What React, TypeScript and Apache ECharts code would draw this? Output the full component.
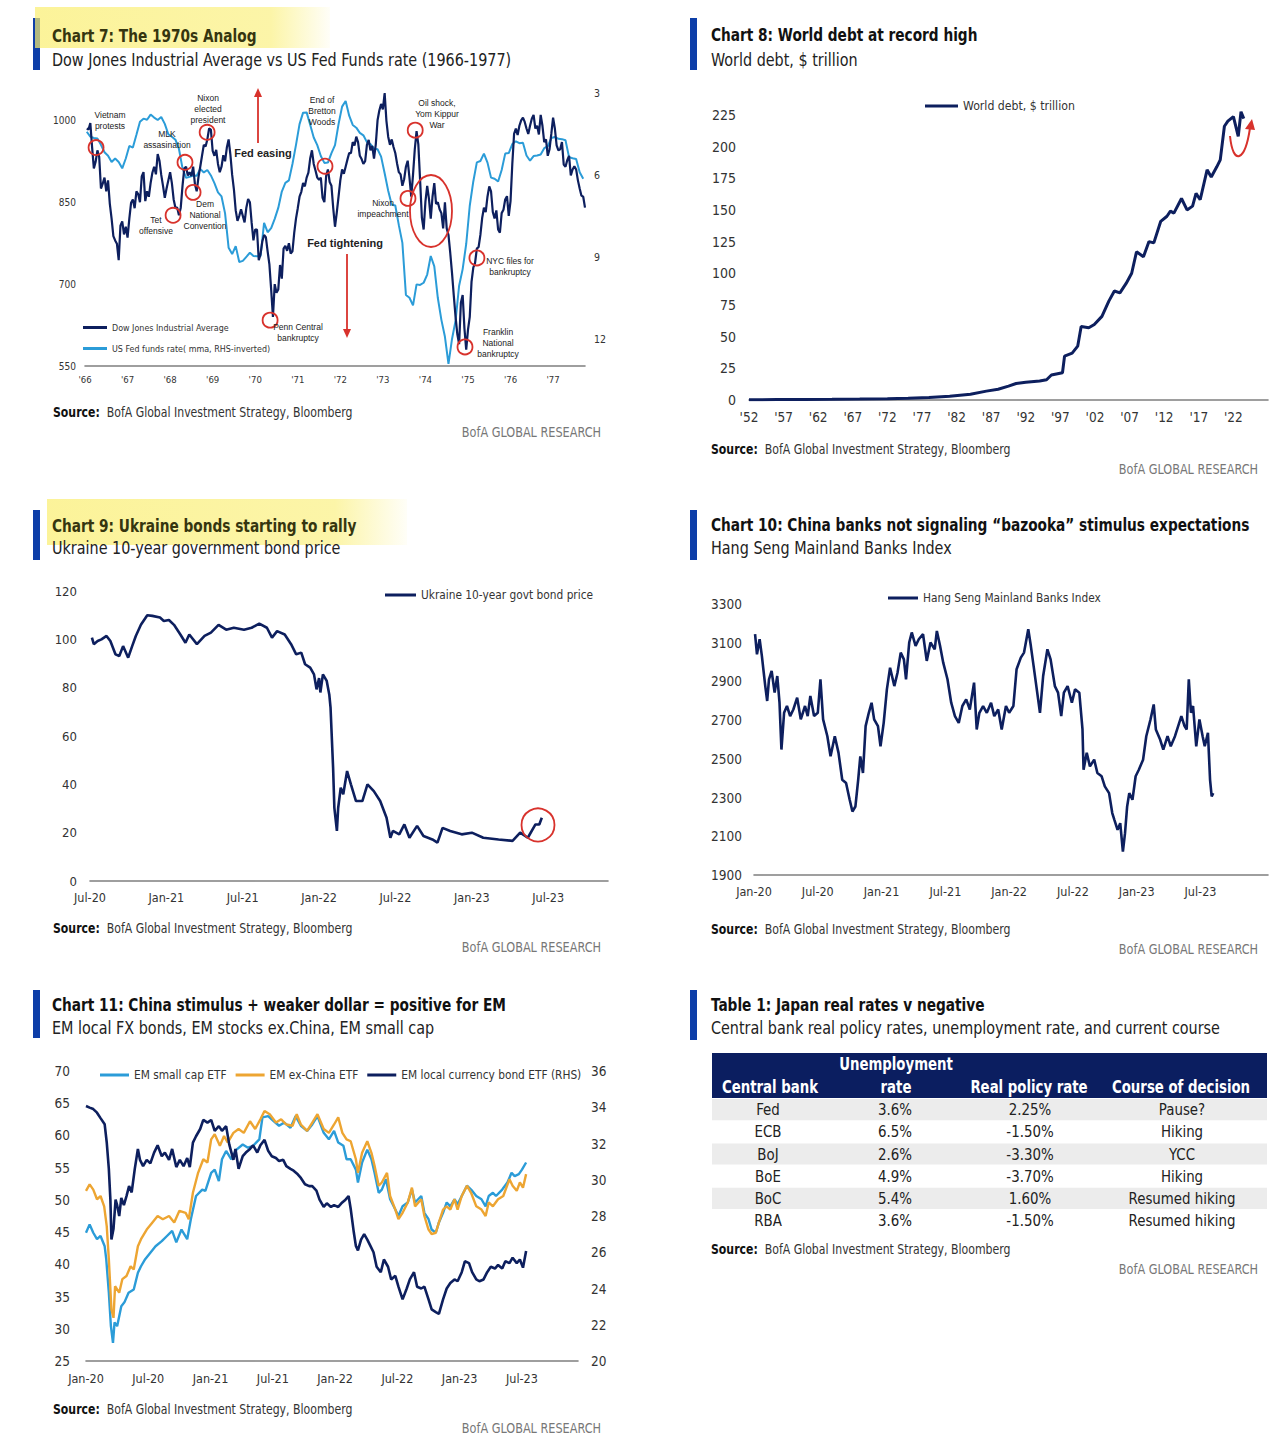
import React, { useEffect, useRef } from "react";
import * as echarts from "echarts";

const NARROW = "'Liberation Sans Narrow', 'DejaVu Sans Condensed', 'Roboto Condensed', Roboto, sans-serif";
const ARIAL = "'Liberation Sans', Arial, sans-serif";
const NAVY = "#0d1f5e";
const LIGHT = "#2b9cd8";
const ORANGE = "#eda532";
const RED = "#d8322c";
const AXIS = "#7f7f7f";
const LABEL = "#333333";
const BAR = "#0d3ea8";

// ---------------- Chart 7 data ----------------
// Dow Jones Industrial Average, two readings per month from Jan 1966
const djStartYear = 1966;
const djPerYear = 24;
const djValues = [
  985, 983, 995, 951, 912, 924, 945, 933, 875, 884, 895, 870, 890, 847, 820, 788, 780, 774, 744, 807, 815, 791, 805, 785,
  820, 849, 855, 839, 870, 865, 850, 897, 905, 852, 870, 860, 885, 904, 915, 901, 938, 926, 900, 880, 858, 875, 890, 905,
  885, 855, 840, 840, 826, 840, 880, 912, 915, 899, 905, 898, 915, 883, 870, 896, 915, 935, 955, 952, 965, 985, 983, 944,
  935, 946, 920, 905, 915, 936, 925, 950, 965, 937, 900, 873, 835, 816, 825, 837, 825, 813, 840, 856, 850, 812, 780, 800,
  800, 744, 755, 778, 790, 786, 760, 736, 690, 640, 700, 684, 690, 735, 710, 765, 770, 761, 775, 756, 760, 794, 820, 839,
  860, 869, 885, 879, 895, 904, 930, 945, 920, 908, 895, 891, 895, 858, 850, 898, 910, 887, 880, 839, 805, 831, 860, 890,
  910, 902, 915, 928, 940, 940, 960, 954, 970, 960, 935, 929, 920, 925, 955, 964, 945, 953, 930, 956, 1000, 1018, 1030, 1020,
  1050, 999, 970, 955, 965, 951, 940, 921, 905, 901, 880, 892, 915, 926, 895, 860, 900, 947, 980, 956, 890, 822, 800, 851,
  880, 856, 820, 860, 885, 847, 850, 837, 830, 802, 850, 802, 790, 757, 720, 679, 640, 608, 590, 666, 680, 619, 580, 616,
  640, 704, 730, 739, 765, 768, 790, 821, 840, 832, 860, 879, 870, 832, 820, 835, 800, 794, 830, 836, 855, 861, 825, 852,
  920, 975, 985, 973, 990, 1000, 1005, 997, 985, 975, 990, 1003, 1010, 985, 990, 974, 1010, 990, 960, 965, 935, 947, 975, 1005,
  985, 954, 945, 947, 960, 919, 915, 927, 935, 899, 910, 916, 910, 890, 875, 862, 860, 840,
];
// US Fed funds rate, monthly from Jan 1966
const fedValues = [
  4.42, 4.6, 4.65, 4.67, 4.9, 5.17, 5.3, 5.53, 5.4, 5.53, 5.76, 5.4,
  4.94, 5.0, 4.53, 4.05, 3.94, 3.98, 3.79, 3.9, 3.99, 3.88, 4.13, 4.51,
  4.6, 4.71, 5.05, 5.76, 6.11, 6.07, 6.02, 6.03, 5.78, 5.91, 5.82, 6.02,
  6.3, 6.64, 6.79, 7.41, 8.67, 8.9, 8.61, 9.19, 9.15, 9.0, 8.85, 8.97,
  8.98, 8.98, 7.76, 8.1, 7.95, 7.61, 7.21, 6.61, 6.29, 6.2, 5.6, 4.9,
  4.14, 3.72, 3.71, 4.16, 4.63, 4.91, 5.31, 5.56, 5.55, 5.2, 4.91, 4.14,
  3.5, 3.29, 3.83, 4.17, 4.27, 4.46, 4.55, 4.8, 4.87, 5.04, 5.06, 5.33,
  5.94, 6.58, 7.09, 7.12, 7.84, 8.49, 10.4, 10.5, 10.78, 10.01, 10.03, 9.95,
  9.65, 8.97, 9.35, 10.51, 11.31, 11.93, 12.92, 12.01, 11.34, 10.06, 9.45, 8.53,
  7.13, 6.24, 5.54, 5.49, 5.22, 5.55, 6.1, 6.14, 6.24, 5.82, 5.22, 5.2,
  4.87, 4.77, 4.84, 4.82, 5.29, 5.48, 5.31, 5.29, 5.25, 5.02, 4.95, 4.65,
  4.61, 4.68, 4.69, 4.73, 5.35, 5.39, 5.42, 5.9, 6.14,
];
const c7YearTicks = [1966, 1967, 1968, 1969, 1970, 1971, 1972, 1973, 1974, 1975, 1976, 1977];
const c7LeftTicks = [550, 700, 850, 1000];
const c7RightTicks = [3, 6, 9, 12];
// circled events [year, DJIA level]
const c7Events = [
  [1966.26, 950], [1968.07, 826], [1968.35, 923], [1968.54, 868], [1968.87, 978], [1970.35, 634],
  [1971.64, 916], [1973.59, 857], [1973.76, 982], [1974.93, 585], [1975.21, 748],
];

// ---------------- Chart 8 data ----------------
const debtSeries = [
  [1952, 0.2], [1956, 0.3], [1960, 0.4], [1964, 0.5], [1968, 0.7], [1972, 1.0], [1975, 1.4], [1978, 2.0],
  [1981, 3], [1984, 4.5], [1986.3, 7], [1988, 8.5], [1989.5, 11], [1990.6, 13], [1992, 14], [1994, 15],
  [1995, 16], [1995.7, 19.7], [1997.3, 21.5], [1997.6, 34.6], [1998.7, 37], [1999.5, 42.5], [2000, 58],
  [2001.1, 57], [2001.9, 59.6], [2003, 66], [2004, 78], [2004.8, 86], [2005.6, 84.5], [2006.5, 92],
  [2007.3, 100], [2008, 117], [2009, 113], [2009.8, 125], [2010.5, 124], [2011.5, 141], [2012.4, 145],
  [2012.9, 149], [2013.4, 147.5], [2014.5, 159], [2015.3, 150], [2016.1, 153], [2016.6, 163], [2017.2, 158],
  [2018.2, 181.6], [2018.8, 176], [2019.6, 184], [2020.1, 189.5], [2020.7, 216], [2021.2, 220], [2022, 223.6],
  [2022.7, 208], [2023.1, 227.5], [2023.5, 222],
];
const debtYearTicks = [1952, 1957, 1962, 1967, 1972, 1977, 1982, 1987, 1992, 1997, 2002, 2007, 2012, 2017, 2022];
const debtValueTicks = [0, 25, 50, 75, 100, 125, 150, 175, 200, 225];

// ---------------- Chart 9 data (x = months since Jan-2020) ----------------
const ukrSeries = [
  [6.15, 100.7], [6.3, 98], [6.6, 99.3], [6.9, 100], [7.3, 101.4], [7.6, 99.3], [8.0, 93.8], [8.3, 93.1],
  [8.6, 97.2], [9.0, 92.4], [9.3, 97], [9.6, 101.4], [10, 106], [10.5, 110], [10.9, 109.7], [11.5, 109],
  [11.8, 107.6], [12.2, 108], [12.6, 106], [13.1, 102], [13.5, 98.6], [13.8, 102], [14.4, 98], [15, 101.4],
  [15.5, 102.8], [16.1, 106], [16.7, 104], [17.3, 104.8], [18.1, 104], [18.7, 104.8], [19.3, 106.5],
  [19.9, 104.8], [20.3, 100.7], [20.7, 103.4], [21.3, 102], [21.8, 98], [22.2, 93.8], [22.6, 94.5],
  [22.9, 89.7], [23.3, 88.3], [23.6, 85.5], [23.8, 79.3], [24.0, 84], [24.1, 78], [24.3, 85.5], [24.6, 82.8],
  [24.8, 77.2], [24.9, 71.7], [25.1, 46.9], [25.2, 30.3], [25.4, 20.7], [25.5, 30.3], [25.7, 38.6],
  [25.9, 35.9], [26.2, 45.5], [26.5, 40], [26.9, 33.1], [27.4, 33.1], [27.8, 40], [28.3, 37.2], [28.8, 33.1],
  [29.3, 26.2], [29.6, 17.9], [29.8, 20.7], [30.3, 19.3], [30.7, 23.4], [31.1, 17.9], [31.7, 22.8],
  [32.2, 18.6], [32.9, 17.2], [33.3, 15.9], [33.7, 22], [34.3, 20.7], [35.2, 19.3], [36, 20], [36.9, 17.9],
  [38.1, 17.2], [39.2, 16.6], [39.8, 20], [40.4, 17.9], [41, 23.4], [41.3, 23.4], [41.5, 26.2],
];
const ukrRally = [41.2, 23.2];
const ukrMonthTicks = [6, 12, 18, 24, 30, 36, 42];
const ukrValueTicks = [0, 20, 40, 60, 80, 100, 120];

// ---------------- Chart 10 data ----------------
const hsSeries = [
  [0.1, 3144], [0.28, 3040], [0.53, 3118], [0.74, 3032], [0.88, 2963], [1.06, 2876], [1.24, 2799], [1.41, 2911],
  [1.66, 2954], [1.94, 2842], [2.19, 2928], [2.4, 2790], [2.58, 2548], [2.83, 2738], [3.1, 2773], [3.4, 2721],
  [3.7, 2755], [4.06, 2816], [4.4, 2704], [4.8, 2773], [5.05, 2721], [5.3, 2825], [5.65, 2721], [6.0, 2738],
  [6.25, 2911], [6.5, 2704], [6.9, 2617], [7.2, 2513], [7.6, 2617], [7.95, 2531], [8.3, 2392], [8.66, 2375],
  [9.0, 2289], [9.26, 2228], [9.54, 2254], [9.8, 2392], [10.0, 2513], [10.25, 2427], [10.5, 2669], [10.8, 2738],
  [11.06, 2790], [11.3, 2704], [11.66, 2669], [11.9, 2565], [12.2, 2686], [12.5, 2859], [12.8, 2971], [13.2, 2876],
  [13.5, 2945], [13.8, 3049], [14.1, 3014], [14.3, 2911], [14.6, 3101], [14.84, 3153], [15.2, 3084], [15.5, 3118],
  [15.9, 3144], [16.25, 3006], [16.6, 3101], [17.0, 3066], [17.2, 3161], [17.5, 3084], [17.8, 2997], [18.2, 2911],
  [18.55, 2790], [18.9, 2721], [19.26, 2686], [19.6, 2773], [19.96, 2807], [20.3, 2755], [20.7, 2894], [20.95, 2652],
  [21.2, 2738], [21.55, 2773], [21.9, 2738], [22.3, 2790], [22.6, 2721], [22.97, 2755], [23.3, 2652], [23.7, 2773],
  [24.0, 2738], [24.4, 2773], [24.7, 2963], [25.1, 3023], [25.4, 3049], [25.8, 3170], [26.04, 3084], [26.3, 2980],
  [26.6, 2859], [26.9, 2738], [27.2, 2928], [27.6, 3066], [27.9, 3014], [28.3, 2876], [28.6, 2842], [28.9, 2721],
  [29.15, 2842], [29.5, 2876], [29.9, 2790], [30.2, 2859], [30.6, 2842], [30.9, 2652], [31.0, 2444], [31.3, 2531],
  [31.6, 2461], [32.0, 2496], [32.3, 2427], [32.7, 2410], [33.0, 2358], [33.4, 2323], [33.7, 2220], [33.9, 2185],
  [34.2, 2133], [34.45, 2168], [34.7, 2021], [34.9, 2116], [35.1, 2254], [35.3, 2323], [35.6, 2289], [35.9, 2410],
  [36.2, 2444], [36.6, 2496], [36.9, 2617], [37.3, 2704], [37.6, 2781], [37.8, 2652], [38.2, 2600], [38.5, 2548],
  [38.9, 2617], [39.2, 2565], [39.6, 2617], [39.9, 2669], [40.2, 2721], [40.5, 2669], [40.7, 2652], [40.9, 2911],
  [41.1, 2738], [41.3, 2773], [41.6, 2565], [41.9, 2704], [42.2, 2617], [42.4, 2565], [42.7, 2634], [42.9, 2392],
  [43.05, 2306], [43.2, 2323],
];
const hsMonthTicks = [0, 6, 12, 18, 24, 30, 36, 42];

// ---------------- Chart 11 data ----------------
const emSmallCap = [
  [0, 44.9], [0.35, 46.2], [0.7, 44.9], [1.06, 43.9], [1.4, 44.4], [1.8, 42.8], [1.95, 40.8], [2.2, 35.6],
  [2.4, 30.4], [2.6, 27.8], [2.75, 31], [3.0, 30.4], [3.4, 33.5], [3.7, 34.1], [4.1, 35.6], [4.6, 36.1],
  [5.0, 38.7], [5.3, 39.7], [5.7, 40.8], [6.2, 41.8], [6.7, 42.8], [7.3, 43.6], [7.8, 44.4], [8.3, 45.2],
  [8.7, 43.4], [9.2, 45.4], [9.75, 43.9], [10.1, 47], [10.6, 50.6], [11.2, 51.6], [11.5, 51.4], [12.06, 54.2],
  [12.4, 54.7], [12.8, 52.9], [13.1, 56.3], [13.5, 57.6], [14, 56.3], [14.5, 57.8], [15.1, 58.6], [15.6, 58.1],
  [16.1, 58.4], [16.7, 59.4], [17.0, 62.8], [17.55, 63], [18.1, 62.2], [18.6, 61.5], [19.1, 62], [19.7, 61.2],
  [20.2, 63], [20.7, 61.5], [21.3, 60.7], [21.8, 61.7], [22.3, 63], [22.9, 60.4], [23.4, 59.4], [23.9, 60.7],
  [24.3, 58.9], [24.8, 58.4], [25.1, 56.3], [25.5, 56.3], [26, 54.7], [26.2, 52.7], [26.6, 55.8], [27.1, 57.8],
  [27.5, 56.3], [27.8, 54.2], [28.2, 51.1], [28.5, 51.6], [28.9, 53.2], [29.3, 50.1], [29.8, 48.5], [30.1, 47.5],
  [30.5, 49], [31, 49.6], [31.4, 51.6], [31.7, 49.6], [32.3, 50.6], [32.6, 48], [33, 47], [33.3, 45.4],
  [33.7, 44.9], [34.0, 46.5], [34.4, 48], [34.75, 49.6], [35.1, 49], [35.5, 50.1], [35.8, 49.3], [36.2, 50.6],
  [36.7, 52.2], [37.1, 51.6], [37.6, 50.6], [38.1, 50.1], [38.5, 49], [38.8, 50.6], [39.2, 51.1], [39.5, 50.6],
  [40.1, 51.6], [40.6, 52.7], [41, 54.2], [41.3, 53.7], [41.7, 54], [42, 54.7], [42.4, 55.8],
];
const emExChina = [
  [0, 51.4], [0.35, 52.4], [0.7, 51.6], [1.06, 50.1], [1.4, 50.6], [1.75, 49], [2.0, 45.9], [2.2, 40.8],
  [2.45, 33], [2.65, 31.7], [2.8, 36.6], [3.2, 35.6], [3.5, 37.7], [3.9, 38.2], [4.3, 39.7], [4.6, 39.2],
  [5.0, 42.8], [5.3, 43.9], [5.85, 45.4], [6.4, 46.5], [6.9, 47.5], [7.4, 47], [8.0, 47.5], [8.5, 46.5],
  [9.0, 48.3], [9.6, 48], [9.9, 47], [10.3, 51.1], [10.8, 54.2], [11.3, 56.3], [11.7, 55.8], [12.06, 59.4],
  [12.4, 60.2], [12.9, 58.4], [13.3, 59.9], [13.65, 58.9], [14.2, 60.4], [14.7, 61], [15.2, 60.4], [15.8, 62.2],
  [16.3, 61], [16.8, 62.5], [17.2, 63.8], [17.7, 63.3], [18.3, 62], [18.8, 62.5], [19.3, 61.7], [19.9, 61.5],
  [20.3, 63.3], [20.7, 61.7], [21.3, 60.7], [21.8, 62], [22.3, 63.3], [22.9, 61], [23.4, 60.4], [23.9, 61.7],
  [24.3, 62.8], [24.7, 60.4], [25.1, 59.4], [25.5, 59.1], [26, 56.3], [26.2, 54.2], [26.6, 57.3], [27.1, 59.1],
  [27.5, 57.3], [27.8, 55.3], [28.2, 52.2], [28.5, 52.7], [29, 54.2], [29.3, 50.6], [29.8, 48.5], [30.1, 47],
  [30.5, 48], [31, 49.6], [31.4, 51.9], [31.7, 49], [32.3, 50.1], [32.6, 47.5], [33, 45.4], [33.3, 44.7],
  [33.7, 44.9], [34.0, 46.5], [34.4, 48.5], [34.75, 49], [35.1, 48.5], [35.5, 50.1], [35.8, 48.5], [36.2, 50.6],
  [36.7, 52.2], [37.1, 51.1], [37.6, 49], [38.1, 48.5], [38.5, 47.5], [38.8, 49.6], [39.2, 49], [39.7, 50.1],
  [40.2, 50.6], [40.8, 53.2], [41.1, 52.2], [41.5, 51.4], [41.8, 52.7], [42.1, 51.9], [42.4, 54],
];
const emLocalBond = [
  [0, 34.07], [0.35, 33.98], [0.7, 33.9], [1.06, 33.7], [1.4, 33.4], [1.8, 33.06], [2.0, 32.05], [2.2, 30.6],
  [2.35, 28.9], [2.45, 26.7], [2.65, 27.3], [2.85, 28.9], [3.0, 28.6], [3.2, 28], [3.4, 29], [3.65, 28.6],
  [3.9, 29.1], [4.15, 29.65], [4.4, 29.3], [4.7, 30.6], [5.0, 31.7], [5.2, 31.1], [5.5, 30.75], [5.85, 31.1],
  [6.2, 30.9], [6.56, 31.5], [6.9, 31.9], [7.3, 31.3], [7.6, 31.5], [8, 31.1], [8.3, 31.7], [8.7, 30.7],
  [9.04, 31.1], [9.4, 30.75], [9.75, 31.2], [10.0, 30.7], [10.3, 32.05], [10.6, 32.4], [11, 32.8], [11.3, 33.3],
  [11.7, 33.15], [12.06, 33.3], [12.4, 32.7], [12.8, 32.96], [13.1, 32.7], [13.5, 32.96], [13.8, 31.95], [14.2, 31.1],
  [14.4, 31.7], [14.7, 30.6], [15.1, 31.3], [15.4, 31.5], [15.8, 31.7], [16.1, 31.9], [16.5, 31.5], [16.8, 31.9],
  [17.2, 32.2], [17.55, 31.6], [17.9, 31.3], [18.3, 31.2], [18.6, 31.03], [19, 31.1], [19.3, 30.75], [19.7, 30.6],
  [20, 30.5], [20.4, 30.3], [20.7, 30.1], [21.1, 29.75], [21.5, 29.65], [21.8, 29.65], [22.2, 29.4], [22.5, 28.9],
  [22.9, 28.5], [23.2, 28.7], [23.6, 28.5], [23.9, 28.6], [24.3, 28.5], [24.6, 28.7], [25, 28.9], [25.3, 29.1],
  [25.5, 28.4], [25.8, 27.1], [26, 26.35], [26.2, 26.1], [26.5, 26.7], [26.8, 27], [27.1, 26.7], [27.4, 26.35],
  [27.7, 26], [28, 25.2], [28.4, 24.9], [28.7, 25.6], [29.1, 25.2], [29.4, 24.5], [29.8, 24.7], [30.1, 24.1],
  [30.5, 23.4], [30.9, 24], [31.2, 24.5], [31.6, 24.9], [31.9, 24.1], [32.3, 24], [32.6, 24.1], [33, 23.4],
  [33.3, 22.85], [33.7, 22.7], [34.0, 22.6], [34.4, 23.4], [34.75, 24], [35.1, 24.3], [35.5, 24.5], [35.8, 24.4],
  [36.2, 24.9], [36.5, 25.5], [36.9, 25.4], [37.2, 24.9], [37.6, 24.5], [37.9, 24.4], [38.3, 24.5], [38.65, 24.9],
  [39, 25.2], [39.4, 25.1], [39.7, 25.3], [40.1, 25.1], [40.4, 25.5], [40.8, 25.4], [41.1, 25.7], [41.5, 25.4],
  [41.8, 25.6], [42.1, 25.15], [42.4, 26.07],
];
const emMonthTicks = [0, 6, 12, 18, 24, 30, 36, 42];

// ---------------- Table 1 data ----------------
const tableHeaders = ["Central bank", "Unemployment\nrate", "Real policy rate", "Course of decision"];
const tableBanks = ["Fed", "ECB", "BoJ", "BoE", "BoC", "RBA"];
const tableUnemployment = ["3.6%", "6.5%", "2.6%", "4.9%", "5.4%", "3.6%"];
const tableRealRate = ["2.25%", "-1.50%", "-3.30%", "-3.70%", "1.60%", "-1.50%"];
const tableCourse = ["Pause?", "Hiking", "YCC", "Hiking", "Resumed hiking", "Resumed hiking"];

// ---------------- helpers ----------------
function monthLabel(m: number) {
  return (m % 12 === 0 ? "Jan-" : "Jul-") + String(20 + Math.floor(m / 12));
}

function txt(x: number, y: number, text: string, o: any = {}) {
  const align = o.align || "left";
  const va = o.va || "middle";
  return {
    type: "text",
    x,
    y,
    scaleX: o.sx || 1,
    silent: true,
    z: o.z || 10,
    style: {
      text,
      fill: o.fill || "#222",
      fontSize: o.size || 13,
      fontFamily: o.family || NARROW,
      fontWeight: o.weight || "normal",
      align,
      verticalAlign: va,
      textAlign: align,
      textVerticalAlign: va,
      lineHeight: o.lh,
      rich: o.rich,
    },
  };
}

function buildOption() {
  const djData = djValues.map((v, i) => [djStartYear + (i + 1) / djPerYear, v]);
  const fedData = fedValues.map((v, i) => [djStartYear + (i + 0.5) / 12, v]);

  const xBase = (o: any) => ({
    type: "value",
    axisLine: { show: true, onZero: false, lineStyle: { color: AXIS, width: 1.6 } },
    axisTick: { show: false },
    splitLine: { show: false },
    ...o,
  });
  const yBase = (o: any) => ({
    type: "value",
    axisLine: { show: false },
    axisTick: { show: false },
    splitLine: { show: false },
    ...o,
  });
  const lbl = (size: number, margin: number, formatter: any) => ({
    fontSize: size,
    margin,
    color: LABEL,
    fontFamily: NARROW,
    formatter,
  });

  const headers = [
    { bx: 33, by: 18, bh: 52, tx: 52, ty: 36, sy: 60, title: "Chart 7: The 1970s Analog", sub: "Dow Jones Industrial Average vs US Fed Funds rate (1966-1977)", hl: [35, 7, 295, 41] },
    { bx: 690, by: 18, bh: 52, tx: 711, ty: 35, sy: 60, title: "Chart 8: World debt at record high", sub: "World debt, $ trillion" },
    { bx: 33, by: 510, bh: 50, tx: 52, ty: 526, sy: 548, title: "Chart 9: Ukraine bonds starting to rally", sub: "Ukraine 10-year government bond price", hl: [47, 499, 360, 46] },
    { bx: 690, by: 510, bh: 50, tx: 711, ty: 525, sy: 548, title: "Chart 10: China banks not signaling \u201cbazooka\u201d stimulus expectations", sub: "Hang Seng Mainland Banks Index" },
    { bx: 33, by: 990, bh: 48, tx: 52, ty: 1005, sy: 1028, title: "Chart 11: China stimulus + weaker dollar = positive for EM", sub: "EM local FX bonds, EM stocks ex.China, EM small cap" },
    { bx: 690, by: 990, bh: 50, tx: 711, ty: 1005, sy: 1028, title: "Table 1: Japan real rates v negative", sub: "Central bank real policy rates, unemployment rate, and current course" },
  ];
  const sources = [
    [53, 412, 601, 432],
    [711, 449, 1258, 469],
    [53, 928, 601, 947],
    [711, 929, 1258, 949],
    [53, 1409, 601, 1428],
    [711, 1249, 1258, 1269],
  ];

  const g: any[] = [];
  headers.forEach((h: any) => {
    g.push({ type: "rect", silent: true, z: 1, shape: { x: h.bx, y: h.by, width: 7, height: h.bh }, style: { fill: BAR } });
    if (h.hl) {
      g.push({
        type: "rect",
        silent: true,
        z: 2,
        shape: { x: h.hl[0], y: h.hl[1], width: h.hl[2], height: h.hl[3] },
        style: {
          fill: {
            type: "linear", x: 0, y: 0, x2: 1, y2: 0,
            colorStops: [
              { offset: 0, color: "rgba(250,238,110,0.7)" },
              { offset: 0.8, color: "rgba(250,238,110,0.6)" },
              { offset: 1, color: "rgba(250,238,110,0.05)" },
            ],
          },
        },
      });
    }
    g.push(txt(h.tx, h.ty, h.title, { size: 17.5, weight: "bold", sx: 0.87, fill: h.hl ? "#35350f" : "#111" }));
    g.push(txt(h.tx, h.sy, h.sub, { size: 17, sx: 0.94, fill: "#222" }));
  });
  sources.forEach((s) => {
    g.push(txt(s[0], s[1], "{b|Source:}  BofA Global Investment Strategy, Bloomberg", {
      size: 13.5, fill: "#333", sx: 0.9,
      rich: { b: { fontWeight: "bold", fontSize: 13.5, fontFamily: NARROW, fill: "#111" } },
    }));
    g.push(txt(s[2], s[3], "BofA GLOBAL RESEARCH", { size: 13.5, fill: "#777", align: "right", sx: 0.93 }));
  });

  // Chart 7 annotations
  const ann = (x: number, y: number, t: string) => txt(x, y, t, { size: 8.5, family: ARIAL, align: "center", lh: 11, fill: "#222" });
  g.push(ann(110, 120, "Vietnam\nprotests"));
  g.push(ann(167, 139, "MLK\nassasination"));
  g.push(ann(208, 109, "Nixon\nelected\npresident"));
  g.push(ann(156, 225.5, "Tet\noffensive"));
  g.push(ann(205, 215, "Dem\nNational\nConvention"));
  g.push(ann(298, 332.5, "Penn Central\nbankruptcy"));
  g.push(ann(322, 111, "End of\nBretton\nWoods"));
  g.push(ann(437, 114, "Oil shock,\nYom Kippur\nWar"));
  g.push(ann(383, 208, "Nixon\nimpeachment"));
  g.push(ann(510, 266.5, "NYC files for\nbankruptcy"));
  g.push(ann(498, 343, "Franklin\nNational\nbankruptcy"));
  g.push(txt(263, 153, "Fed easing", { size: 11, family: ARIAL, weight: "bold", align: "center", fill: "#222" }));
  g.push(txt(345, 243, "Fed tightening", { size: 11, family: ARIAL, weight: "bold", align: "center", fill: "#222" }));
  g.push({ type: "line", silent: true, z: 10, shape: { x1: 258, y1: 143, x2: 258, y2: 95 }, style: { stroke: RED, lineWidth: 1.8 } });
  g.push({ type: "polygon", silent: true, z: 10, shape: { points: [[254, 97], [262, 97], [258, 88]] }, style: { fill: RED } });
  g.push({ type: "line", silent: true, z: 10, shape: { x1: 347, y1: 254, x2: 347, y2: 331 }, style: { stroke: RED, lineWidth: 1.8 } });
  g.push({ type: "polygon", silent: true, z: 10, shape: { points: [[343, 329], [351, 329], [347, 338]] }, style: { fill: RED } });
  g.push({ type: "ellipse", silent: true, z: 10, shape: { cx: 431, cy: 211, rx: 21, ry: 36 }, style: { fill: "none", stroke: RED, lineWidth: 1.8 } });

  // Chart 8 rebound arrow
  g.push({
    type: "bezierCurve", silent: true, z: 10,
    shape: { x1: 1230, y1: 136, cpx1: 1233, cpy1: 166, cpx2: 1245, cpy2: 162, x2: 1250, y2: 128 },
    style: { stroke: RED, lineWidth: 2, fill: "none" },
  });
  g.push({ type: "polygon", silent: true, z: 10, shape: { points: [[1245, 129], [1255, 130], [1252, 119]] }, style: { fill: RED } });

  // Table 1
  const colX = [768, 895, 1030, 1182];
  const headX = [770, 896, 1029, 1181];
  const rowTop = 1099;
  const rowH = 22.2;
  g.push({ type: "rect", silent: true, z: 1, shape: { x: 712, y: 1053, width: 555, height: 45 }, style: { fill: "#0b1e60" } });
  tableHeaders.forEach((h, i) => {
    g.push(txt(headX[i], 1099, h, { size: 17, weight: "bold", fill: "#fff", align: "center", va: "bottom", lh: 23, sx: 0.87 }));
  });
  tableBanks.forEach((b, i) => {
    if (i % 2 === 0) {
      g.push({ type: "rect", silent: true, z: 1, shape: { x: 712, y: rowTop + i * rowH, width: 555, height: rowH - 1 }, style: { fill: "#ececec" } });
    }
    const cy = rowTop + i * rowH + rowH / 2;
    const cells = [b, tableUnemployment[i], tableRealRate[i], tableCourse[i]];
    cells.forEach((c, j) => g.push(txt(colX[j], cy, c, { size: 16, fill: "#222", align: "center", sx: 0.93 })));
  });

  const legendBase = {
    icon: "rect",
    itemHeight: 3,
    padding: 0,
    selectedMode: false,
    textStyle: { color: "#333", fontFamily: NARROW, fontSize: 11.8 },
  };
  const hollow = (size: number) => ({
    symbol: "circle",
    symbolSize: size,
    itemStyle: { color: "rgba(0,0,0,0)", borderColor: RED, borderWidth: 1.8 },
    label: { show: false },
  });

  return {
    animation: false,
    backgroundColor: "#ffffff",
    textStyle: { fontFamily: NARROW },
    grid: [
      { left: 85, top: 93, width: 500, height: 273 },
      { left: 749, top: 106, width: 519, height: 294 },
      { left: 90, top: 591, width: 518, height: 290 },
      { left: 754, top: 604, width: 514, height: 271 },
      { left: 86, top: 1071, width: 492, height: 290 },
    ],
    xAxis: [
      xBase({ gridIndex: 0, min: 1966, max: 1977.75, interval: 1, axisLabel: lbl(9.5, 8, (v: number) => (c7YearTicks.includes(v) ? "'" + String(v).slice(2) : "")) }),
      xBase({ gridIndex: 1, min: 1952, max: 2027, interval: 5, axisLabel: lbl(13.5, 10, (v: number) => (debtYearTicks.includes(v) ? "'" + String(v).slice(2) : "")) }),
      xBase({ gridIndex: 2, min: 6, max: 46.7, interval: 6, axisLabel: lbl(12.5, 10, (v: number) => (ukrMonthTicks.includes(v) ? monthLabel(v) : "")) }),
      xBase({ gridIndex: 3, min: 0, max: 48.35, interval: 6, axisLabel: lbl(12.5, 10, (v: number) => (hsMonthTicks.includes(v) ? monthLabel(v) : "")) }),
      xBase({ gridIndex: 4, min: 0, max: 47.4, interval: 6, axisLabel: lbl(12.5, 11, (v: number) => (emMonthTicks.includes(v) ? monthLabel(v) : "")) }),
    ],
    yAxis: [
      yBase({ gridIndex: 0, min: 550, max: 1050, interval: 150, axisLabel: lbl(10, 9, (v: number) => (c7LeftTicks.includes(v) ? String(v) : "")) }),
      yBase({ gridIndex: 0, position: "right", inverse: true, min: 3, max: 13, interval: 3, axisLabel: lbl(10.5, 9, (v: number) => (c7RightTicks.includes(v) ? String(v) : "")) }),
      yBase({ gridIndex: 1, min: 0, max: 232, interval: 25, axisLabel: lbl(14, 13, (v: number) => (debtValueTicks.includes(v) ? String(v) : "")) }),
      yBase({ gridIndex: 2, min: 0, max: 120, interval: 20, axisLabel: lbl(13, 13, (v: number) => (ukrValueTicks.includes(v) ? String(v) : "")) }),
      yBase({ gridIndex: 3, min: 1900, max: 3300, interval: 200, axisLabel: lbl(13.5, 12, (v: number) => String(v)) }),
      yBase({ gridIndex: 4, min: 25, max: 70, interval: 5, axisLabel: lbl(13.5, 16, (v: number) => String(v)) }),
      yBase({ gridIndex: 4, position: "right", min: 20, max: 36, interval: 2, axisLabel: lbl(13.5, 13, (v: number) => String(v)) }),
    ],
    legend: [
      { ...legendBase, left: 83, top: 323, orient: "vertical", itemWidth: 24, itemGap: 12, data: ["Dow Jones Industrial Average", "US Fed funds rate( mma, RHS-inverted)"], textStyle: { ...legendBase.textStyle, fontSize: 8.9 } },
      { ...legendBase, left: 925, top: 100, itemWidth: 33, data: ["World debt, $ trillion"], textStyle: { ...legendBase.textStyle, fontSize: 12.2 } },
      { ...legendBase, left: 385, top: 589, itemWidth: 31, data: ["Ukraine 10-year govt bond price"] },
      { ...legendBase, left: 888, top: 592, itemWidth: 30, data: ["Hang Seng Mainland Banks Index"] },
      { ...legendBase, left: 100, top: 1069, itemWidth: 29, itemGap: 9, data: ["EM small cap ETF", "EM ex-China ETF", "EM local currency bond ETF (RHS)"] },
    ],
    graphic: g,
    series: [
      {
        name: "US Fed funds rate( mma, RHS-inverted)", type: "line", xAxisIndex: 0, yAxisIndex: 1, z: 2,
        data: fedData, showSymbol: false, color: LIGHT, lineStyle: { color: LIGHT, width: 2 },
      },
      {
        name: "Dow Jones Industrial Average", type: "line", xAxisIndex: 0, yAxisIndex: 0, z: 3,
        data: djData, showSymbol: false, color: NAVY, lineStyle: { color: NAVY, width: 2.2 },
        markPoint: { silent: true, ...hollow(15), data: c7Events.map((e) => ({ coord: e, ...hollow(15) })) },
      },
      {
        name: "World debt, $ trillion", type: "line", xAxisIndex: 1, yAxisIndex: 2,
        data: debtSeries, showSymbol: false, color: NAVY, lineStyle: { color: NAVY, width: 3 },
      },
      {
        name: "Ukraine 10-year govt bond price", type: "line", xAxisIndex: 2, yAxisIndex: 3,
        data: ukrSeries, showSymbol: false, color: NAVY, lineStyle: { color: NAVY, width: 2.6 },
        markPoint: { silent: true, ...hollow(33), data: [{ coord: ukrRally, ...hollow(33) }] },
      },
      {
        name: "Hang Seng Mainland Banks Index", type: "line", xAxisIndex: 3, yAxisIndex: 4,
        data: hsSeries, showSymbol: false, color: NAVY, lineStyle: { color: NAVY, width: 2.6 },
      },
      {
        name: "EM small cap ETF", type: "line", xAxisIndex: 4, yAxisIndex: 5,
        data: emSmallCap, showSymbol: false, color: LIGHT, lineStyle: { color: LIGHT, width: 2.4 },
      },
      {
        name: "EM ex-China ETF", type: "line", xAxisIndex: 4, yAxisIndex: 5,
        data: emExChina, showSymbol: false, color: ORANGE, lineStyle: { color: ORANGE, width: 2.4 },
      },
      {
        name: "EM local currency bond ETF (RHS)", type: "line", xAxisIndex: 4, yAxisIndex: 6,
        data: emLocalBond, showSymbol: false, color: NAVY, lineStyle: { color: NAVY, width: 2.6 },
      },
    ],
  };
}

export default function App() {
  const ref = useRef<HTMLDivElement | null>(null);
  useEffect(() => {
    if (!ref.current) return;
    const chart = echarts.init(ref.current, null, { renderer: "svg" });
    chart.setOption(buildOption() as any);
    return () => chart.dispose();
  }, []);
  return (
    <div
      ref={ref}
      style={{ position: "absolute", left: 0, top: 0, width: 1284, height: 1450, background: "#ffffff" }}
    />
  );
}
